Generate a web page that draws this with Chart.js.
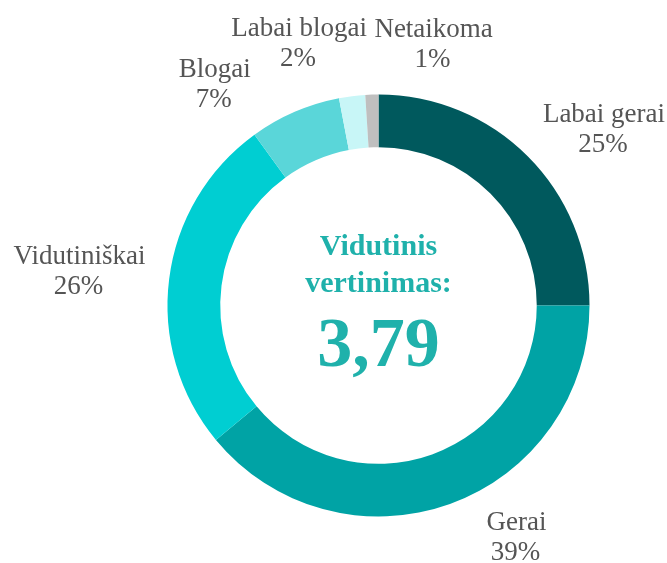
<!DOCTYPE html>
<html>
<head>
<meta charset="utf-8">
<script src="https://cdn.jsdelivr.net/npm/chart.js@4"></script>
<style>
  html, body { margin: 0; padding: 0; background: #ffffff; }
  #wrap { width: 667px; height: 563px; }
</style>
</head>
<body>
<div id="wrap"><canvas id="c" width="667" height="563"></canvas></div>
<script>
// ---- data ----
const categories = ['Labai gerai', 'Gerai', 'Vidutiniškai', 'Blogai', 'Labai blogai', 'Netaikoma'];
const percentages = [25, 39, 26, 7, 2, 1];
const segmentColors = ['#00595D', '#00A3A5', '#00CED2', '#5AD6D9', '#C8F6F7', '#BFBFBF'];
const centerTitle = ['Vidutinis', 'vertinimas:'];
const averageScore = '3,79';

// label nudges (px) relative to the point at outer radius + 40 along each slice's mid-angle
const labelNudges = [[48, 1], [53, -5], [-50, -3], [-64, 9], [-48, -13], [63, -11]];

const SERIF = "'Liberation Serif', 'Times New Roman', serif";

const labelPlugin = {
  id: 'sliceLabels',
  afterDatasetsDraw(chart) {
    const ctx = chart.ctx;
    const meta = chart.getDatasetMeta(0);
    ctx.save();
    ctx.fillStyle = '#555555';
    ctx.font = '27px ' + SERIF;
    ctx.textAlign = 'center';
    ctx.textBaseline = 'alphabetic';
    meta.data.forEach((arc, i) => {
      const p = arc.getProps(['x', 'y', 'startAngle', 'endAngle', 'outerRadius'], true);
      const mid = (p.startAngle + p.endAngle) / 2;
      const r = p.outerRadius + 40;
      const x = p.x + Math.cos(mid) * r + labelNudges[i][0];
      const y = p.y + Math.sin(mid) * r + labelNudges[i][1];
      ctx.fillText(categories[i], x, y - 7);
      ctx.fillText(percentages[i] + '%', x - 1, y + 23);
    });
    ctx.restore();
  }
};

const centerPlugin = {
  id: 'centerText',
  afterDatasetsDraw(chart) {
    const ctx = chart.ctx;
    const arc = chart.getDatasetMeta(0).data[0];
    const cx = arc.x, cy = arc.y;
    ctx.save();
    ctx.fillStyle = '#1FB1AB';
    ctx.textAlign = 'center';
    ctx.textBaseline = 'alphabetic';
    ctx.font = 'bold 30px ' + SERIF;
    ctx.fillText(centerTitle[0], cx, cy - 50.5);
    ctx.fillText(centerTitle[1], cx, cy - 14);
    ctx.font = 'bold 70px ' + SERIF;
    ctx.fillText(averageScore, cx, cy + 60.5);
    ctx.restore();
  }
};

new Chart(document.getElementById('c'), {
  type: 'doughnut',
  data: {
    labels: categories,
    datasets: [{
      data: percentages,
      backgroundColor: segmentColors,
      borderWidth: 0,
      hoverOffset: 0,
      offset: 0
    }]
  },
  options: {
    responsive: false,
    animation: false,
    cutout: '75%',
    rotation: 0,
    layout: { padding: { left: 167.5, right: 77.5, top: 94.5, bottom: 46.5 } },
    plugins: {
      legend: { display: false },
      tooltip: { enabled: false }
    },
    events: []
  },
  plugins: [labelPlugin, centerPlugin]
});
</script>
</body>
</html>
